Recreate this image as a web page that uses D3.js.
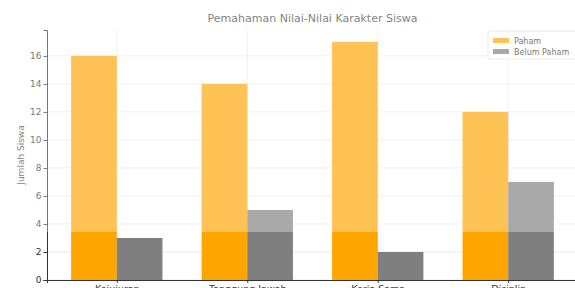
<!DOCTYPE html>
<head>
    <meta charset="utf-8">
    <script src="https://d3js.org/d3.v7.min.js"></script>
    <style>
        body { margin:0; background:#fff; }
        text { font-family: "DejaVu Sans", sans-serif; }
    </style>
</head>
<body>
<script>
    // data
    var categories = ["Kejujuran", "Tanggung Jawab", "Kerja Sama", "Disiplin"];
    var paham = [16, 14, 17, 12];
    var belumPaham = [3, 5, 2, 7];
    var seriesNames = ["Paham", "Belum Paham"];
    var yTicks = [0, 2, 4, 6, 8, 10, 12, 14, 16];
    var fadeLevel = 3.43; // the photo is washed out above this level

    var width = 575, height = 288;
    var margin = {top: 30, bottom: 280, left: 47, right: 578};

    var svg = d3.select("body").append("svg")
        .attr("width", width)
        .attr("height", height);

    var x = d3.scaleLinear().domain([-0.535, 3.535]).range([margin.left, margin.right]);
    var y = d3.scaleLinear().domain([0, 17.85]).range([margin.bottom, margin.top]);
    var barW = 0.35;

    // grid
    svg.append("g").selectAll("line.h").data(yTicks).enter().append("line")
        .attr("x1", margin.left).attr("x2", margin.right)
        .attr("y1", function(d) { return y(d); }).attr("y2", function(d) { return y(d); })
        .attr("stroke", "#e3e3e3").attr("stroke-width", 0.8);
    svg.append("g").selectAll("line.v").data(categories).enter().append("line")
        .attr("x1", function(d, i) { return x(i); }).attr("x2", function(d, i) { return x(i); })
        .attr("y1", margin.top).attr("y2", margin.bottom)
        .attr("stroke", "#e3e3e3").attr("stroke-width", 0.8);

    // bars
    svg.append("g").selectAll("rect").data(paham).enter().append("rect")
        .attr("x", function(d, i) { return x(i - barW); })
        .attr("width", x(barW) - x(0))
        .attr("y", function(d) { return y(d); })
        .attr("height", function(d) { return y(0) - y(d); })
        .attr("fill", "#ffa500");
    svg.append("g").selectAll("rect").data(belumPaham).enter().append("rect")
        .attr("x", function(d, i) { return x(i); })
        .attr("width", x(barW) - x(0))
        .attr("y", function(d) { return y(d); })
        .attr("height", function(d) { return y(0) - y(d); })
        .attr("fill", "#7f7f7f");

    // axes
    var yAxis = svg.append("g")
        .attr("transform", "translate(" + margin.left + ",0)")
        .call(d3.axisLeft(y).tickValues(yTicks).tickSize(3.5).tickPadding(2).tickFormat(d3.format("d")));
    var xAxis = svg.append("g")
        .attr("transform", "translate(0," + margin.bottom + ")")
        .call(d3.axisBottom(x).tickValues(d3.range(categories.length)).tickSize(3).tickPadding(2)
            .tickFormat(function(d) { return categories[d]; }));
    [yAxis, xAxis].forEach(function(a) {
        a.select(".domain").attr("stroke", "#333").attr("stroke-width", 1);
        a.selectAll(".tick line").attr("stroke", "#333");
        a.selectAll(".tick text").attr("fill", "#333").style("font-family", "DejaVu Sans");
    });
    yAxis.selectAll(".tick text").style("font-size", "9px");
    xAxis.selectAll(".tick text").style("font-size", "9.5px");

    // labels
    svg.append("text")
        .attr("x", (margin.left + margin.right) / 2).attr("y", 22)
        .attr("text-anchor", "middle")
        .attr("fill", "#444").style("font-size", "11px")
        .text("Pemahaman Nilai-Nilai Karakter Siswa");
    svg.append("text")
        .attr("transform", "translate(24," + (margin.top + margin.bottom) / 2 + ") rotate(-90)")
        .attr("text-anchor", "middle")
        .attr("fill", "#444").style("font-size", "9px")
        .text("Jumlah Siswa");

    // legend
    var legend = svg.append("g").attr("transform", "translate(488,31)");
    legend.append("rect").attr("width", 92).attr("height", 28).attr("rx", 2)
        .attr("fill", "#fff").attr("stroke", "#e0e0e0");
    var colors = ["#ffa500", "#7f7f7f"];
    seriesNames.forEach(function(name, i) {
        legend.append("rect").attr("x", 5).attr("y", 7 + i * 11).attr("width", 16).attr("height", 5)
            .attr("fill", colors[i]);
        legend.append("text").attr("x", 26).attr("y", 12.5 + i * 11)
            .attr("fill", "#333").style("font-size", "8px").text(name);
    });

    // washed-out upper part of the photo
    svg.append("rect")
        .attr("x", 0).attr("y", 0).attr("width", width).attr("height", y(fadeLevel))
        .attr("fill", "#fff").attr("opacity", 0.33);
</script>
</body>
